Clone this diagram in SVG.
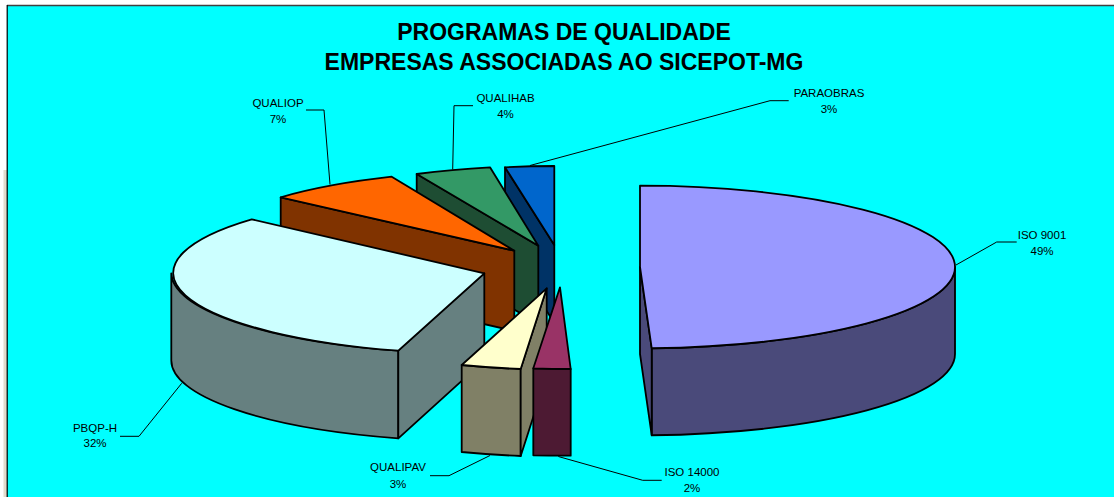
<svg xmlns="http://www.w3.org/2000/svg" width="1114" height="497" viewBox="0 0 1114 497">
<style>
.f{stroke:#000;stroke-width:1.8;stroke-linejoin:round}
.ld{fill:none;stroke:#000;stroke-width:1}
.t{font-family:"Liberation Sans",Arial,sans-serif;font-weight:bold;font-size:23px;fill:#000;text-anchor:middle}
.l{font-family:"Liberation Sans",Arial,sans-serif;font-size:11.5px;fill:#000;text-anchor:middle}
</style>
<rect x="0" y="0" width="1114" height="497" fill="#fff"/>
<rect x="3.5" y="170" width="3.5" height="327" fill="#e2dccd"/>
<rect x="7" y="6" width="1107" height="491" fill="#00ffff"/>
<line x1="7" y1="5.5" x2="1114" y2="5.5" stroke="#404040" stroke-width="1.5"/>
<line x1="7.2" y1="5" x2="7.2" y2="497" stroke="#000" stroke-width="1.2"/>
<g id="title">
<text class="t" x="564" y="40">PROGRAMAS DE QUALIDADE</text>
<text class="t" x="564" y="70">EMPRESAS ASSOCIADAS AO SICEPOT-MG</text>
</g>
<g id="paraobras">
<path class="f" fill="#003366" d="M505,167.3 L554.3,245 L554.3,323 L505,245.3 Z"/>
<path class="f" fill="#0066cc" d="M554.3,245 L505,167.3 A315,79 0 0 1 554.3,166 Z"/>
</g>
<g id="qualihab">
<path class="f" fill="#1e4d33" d="M416.7,174 L538.3,245.7 L538.3,323.7 L416.7,252 Z"/>
<path class="f" fill="#339966" d="M538.3,245.7 L416.7,174 A315,78.5 0 0 1 490,167.3 Z"/>
</g>
<g id="qualiop">
<path class="f" fill="#803300" d="M280.7,197.3 L514.3,250.7 L514.3,331 L280.7,277.6 Z"/>
<path class="f" fill="#ff6600" d="M514.3,250.7 L280.7,197.3 A315,81.3 0 0 1 391.7,176.7 Z"/>
</g>
<g id="pbqp-h">
<path class="f" fill="#668080" d="M171.3,273.3 A313,81 0 0 0 398.3,350.7 L398.3,438.3 A313,81 0 0 1 171.3,360.3 Z"/>
<path class="f" fill="#668080" d="M398.3,350.7 L484.3,273.3 L484.3,360.3 L398.3,438.3 Z"/>
<path class="f" fill="#ccffff" d="M484.3,273.3 L251.7,219.3 A313,81 0 0 0 398.3,350.7 Z"/>
</g>
<g id="qualipav">
<path class="f" fill="#808066" d="M461.7,365 A315,81 0 0 0 520.7,369 L520.7,456 A315,81 0 0 1 461.7,452 Z"/>
<path class="f" fill="#808066" d="M520.7,369 L546.7,288.3 L546.7,375.3 L520.7,456 Z"/>
<path class="f" fill="#ffffcc" d="M546.7,288.3 L461.7,365 A315,81 0 0 0 520.7,369 Z"/>
</g>
<g id="iso14000">
<path class="f" fill="#4d1a33" d="M533.3,368.3 A315,81 0 0 0 570.7,369 L570.7,455.7 A315,81 0 0 1 533.3,455.3 Z"/>
<path class="f" fill="#993366" d="M560,287.3 L533.3,368.3 A315,81 0 0 0 570.7,369 Z"/>
</g>
<g id="iso9001">
<path class="f" fill="#4a4a7a" d="M955,267 A315,81.3 0 0 1 651.7,348.24 L651.7,435.24 A315,81.3 0 0 0 955,354 Z"/>
<path class="f" fill="#4a4a7a" d="M640,267 L651.7,348.24 L651.7,435.24 L640,354 Z"/>
<path class="f" fill="#9999ff" d="M640,267 L640,185.7 A315,81.3 0 0 1 955,267 A315,81.3 0 0 1 651.7,348.24 Z"/>
</g>
<g id="connectors">
<polyline class="ld" points="306,110 324,110 330,184.5"/>
<polyline class="ld" points="473,105.7 454,105.7 452.7,169.5"/>
<polyline class="ld" points="788.7,100.7 770,100.7 530,165.5"/>
<polyline class="ld" points="1016.7,242 996.7,242 956,265"/>
<polyline class="ld" points="120,436.3 139,436.3 181.7,383.3"/>
<polyline class="ld" points="430,475.7 449,475.7 490,455.5"/>
<polyline class="ld" points="661.7,480.3 642.7,480.3 558.3,456.5"/>
</g>
<g id="labels">
<text class="l" x="278" y="106.8">QUALIOP</text><text class="l" x="278" y="123">7%</text>
<text class="l" x="505.5" y="101.8">QUALIHAB</text><text class="l" x="505.5" y="118">4%</text>
<text class="l" x="829" y="97">PARAOBRAS</text><text class="l" x="829" y="113">3%</text>
<text class="l" x="1042" y="239">ISO 9001</text><text class="l" x="1042" y="255">49%</text>
<text class="l" x="95" y="431.7">PBQP-H</text><text class="l" x="95" y="447">32%</text>
<text class="l" x="398" y="471">QUALIPAV</text><text class="l" x="398" y="488">3%</text>
<text class="l" x="692" y="476">ISO 14000</text><text class="l" x="692" y="492">2%</text>
</g>
</svg>
